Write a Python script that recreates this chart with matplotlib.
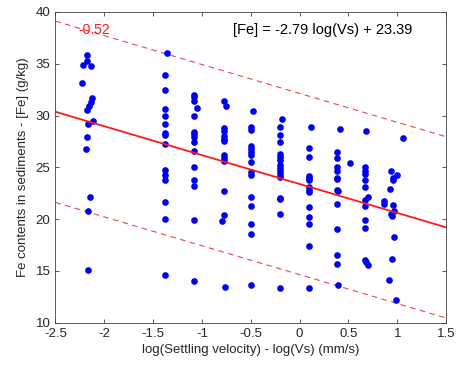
import numpy as np
import matplotlib
matplotlib.use("Agg")
import matplotlib.pyplot as plt

plt.rcParams['font.family'] = ['Liberation Sans', 'DejaVu Sans']
plt.rcParams['axes.unicode_minus'] = False

# log(Vs) and [Fe] for each sampled fraction, column by column
x_c1 = [-2.173, -2.221, -2.180, -2.139, -2.225, -2.122, -2.136, -2.156, -2.173, -2.118, -2.169, -2.180, -2.190, -2.146, -2.169, -2.169]
fe_c1 = [35.87, 34.93, 35.25, 34.79, 33.18, 31.72, 31.35, 30.9, 30.57, 29.44, 29.23, 27.9, 26.75, 22.15, 20.76, 15.05]

x_c2 = [-1.355] + [-1.378] * 14
fe_c2 = [36.0, 33.9, 32.5, 30.6, 29.95, 29.2, 28.3, 28.1, 27.3, 24.7, 24.25, 23.75, 21.65, 20.04, 14.57]

x_c3 = [-1.08, -1.08, -1.08, -1.054] + [-1.08] * 11
fe_c3 = [32.0, 31.77, 31.45, 30.72, 29.98, 28.4, 28.18, 27.95, 27.47, 26.55, 25.02, 23.73, 23.22, 19.92, 14.06]

x_c4 = [-0.775, -0.754] + [-0.775] * 10 + [-0.79, -0.764]
fe_c4 = [31.36, 30.94, 28.77, 28.52, 27.99, 27.75, 27.5, 26.15, 25.92, 25.66, 22.74, 20.42, 19.78, 13.44]

x_c5 = [-0.48] + [-0.5] * 14
fe_c5 = [30.45, 28.9, 28.6, 27.05, 26.8, 26.5, 26.2, 25.47, 24.55, 24.3, 22.09, 21.23, 19.56, 18.55, 13.6]

x_c6 = [-0.184] + [-0.2] * 15
fe_c6 = [29.65, 28.94, 28.17, 27.4, 26.3, 26.02, 25.73, 25.22, 24.93, 24.65, 24.4, 24.1, 22.05, 21.9, 20.49, 13.32]

x_c7 = [0.115] + [0.096] * 12 + [0.1]
fe_c7 = [28.94, 26.91, 25.99, 24.19, 23.95, 23.73, 23.15, 22.84, 22.58, 21.13, 20.2, 19.53, 17.44, 13.38]

x_c8 = [0.41] + [0.379] * 7 + [0.395] + [0.379] * 4 + [0.396, 0.515]
fe_c8 = [28.69, 26.47, 25.89, 24.99, 24.6, 23.96, 23.87, 22.84, 22.67, 21.49, 19.07, 16.57, 15.63, 13.64, 25.41]

x_c9 = [0.68, 0.67, 0.67, 0.67, 0.67, 0.67, 0.7, 0.67, 0.67, 0.67, 0.67, 0.67, 0.685, 0.7]
fe_c9 = [28.52, 25.08, 24.6, 24.35, 23.8, 23.15, 22.13, 21.87, 21.29, 19.94, 19.1, 16.08, 15.82, 15.6]

x_c10 = [1.055, 0.935, 1.0, 0.96, 0.96, 0.925, 0.86, 0.86, 0.96, 0.965, 0.94, 0.945, 0.97, 0.95, 0.92, 0.99]
fe_c10 = [27.82, 24.67, 24.28, 23.96, 23.8, 22.9, 21.77, 21.49, 21.39, 20.74, 20.52, 20.33, 18.24, 16.18, 14.16, 12.16]

slope = -2.79
intercept = 23.39
band = 8.75
r_text = "-0.52"

xticks = [-2.5, -2, -1.5, -1, -0.5, 0, 0.5, 1, 1.5]
xtick_labels = ['-2.5', '-2', '-1.5', '-1', '-0.5', '0', '0.5', '1', '1.5']
yticks = [10, 15, 20, 25, 30, 35, 40]

xs = np.concatenate([x_c1, x_c2, x_c3, x_c4, x_c5, x_c6, x_c7, x_c8, x_c9, x_c10])
fe = np.concatenate([fe_c1, fe_c2, fe_c3, fe_c4, fe_c5, fe_c6, fe_c7, fe_c8, fe_c9, fe_c10])

fig = plt.figure(figsize=(4.58, 3.69), dpi=100)
ax = fig.add_axes([0.121, 0.1255, 0.853, 0.842])

xl = np.array([-2.5, 1.5])
yl = slope * xl + intercept
ax.plot(xl, yl + band, '--', color='#e8474a', lw=0.8, dashes=(5, 4))
ax.plot(xl, yl - band, '--', color='#e8474a', lw=0.8, dashes=(5, 4))
ax.plot(xs, fe, 'o', color='#0000f0', ms=4.8, mec='none')
ax.plot(xl, yl, '-', color='#ff1a1a', lw=1.3)

ax.text(-2.27, 38.25, r_text, color='#ff1a1a', fontsize=10, va='center')
ax.text(-0.68, 38.25, "[Fe] = %.2f log(Vs) + %.2f" % (slope, intercept),
        color='black', fontsize=10.5, va='center')

ax.set_xlim(-2.5, 1.5)
ax.set_ylim(10, 40)
ax.set_xticks(xticks)
ax.set_xticklabels(xtick_labels)
ax.set_yticks(yticks)
ax.tick_params(direction='in', top=True, right=True, labelsize=9.5, length=3,
               color='#404040', labelcolor='#262626', width=0.6)
for s in ax.spines.values():
    s.set_color('#404040')
    s.set_linewidth(0.6)

ax.set_xlabel('log(Settling velocity) - log(Vs) (mm/s)', fontsize=9.5, color='#262626', labelpad=3)
ax.set_ylabel('Fe contents in sediments - [Fe] (g/kg)', fontsize=9.5, color='#262626', labelpad=5)

fig.savefig('out.png', dpi=100)
